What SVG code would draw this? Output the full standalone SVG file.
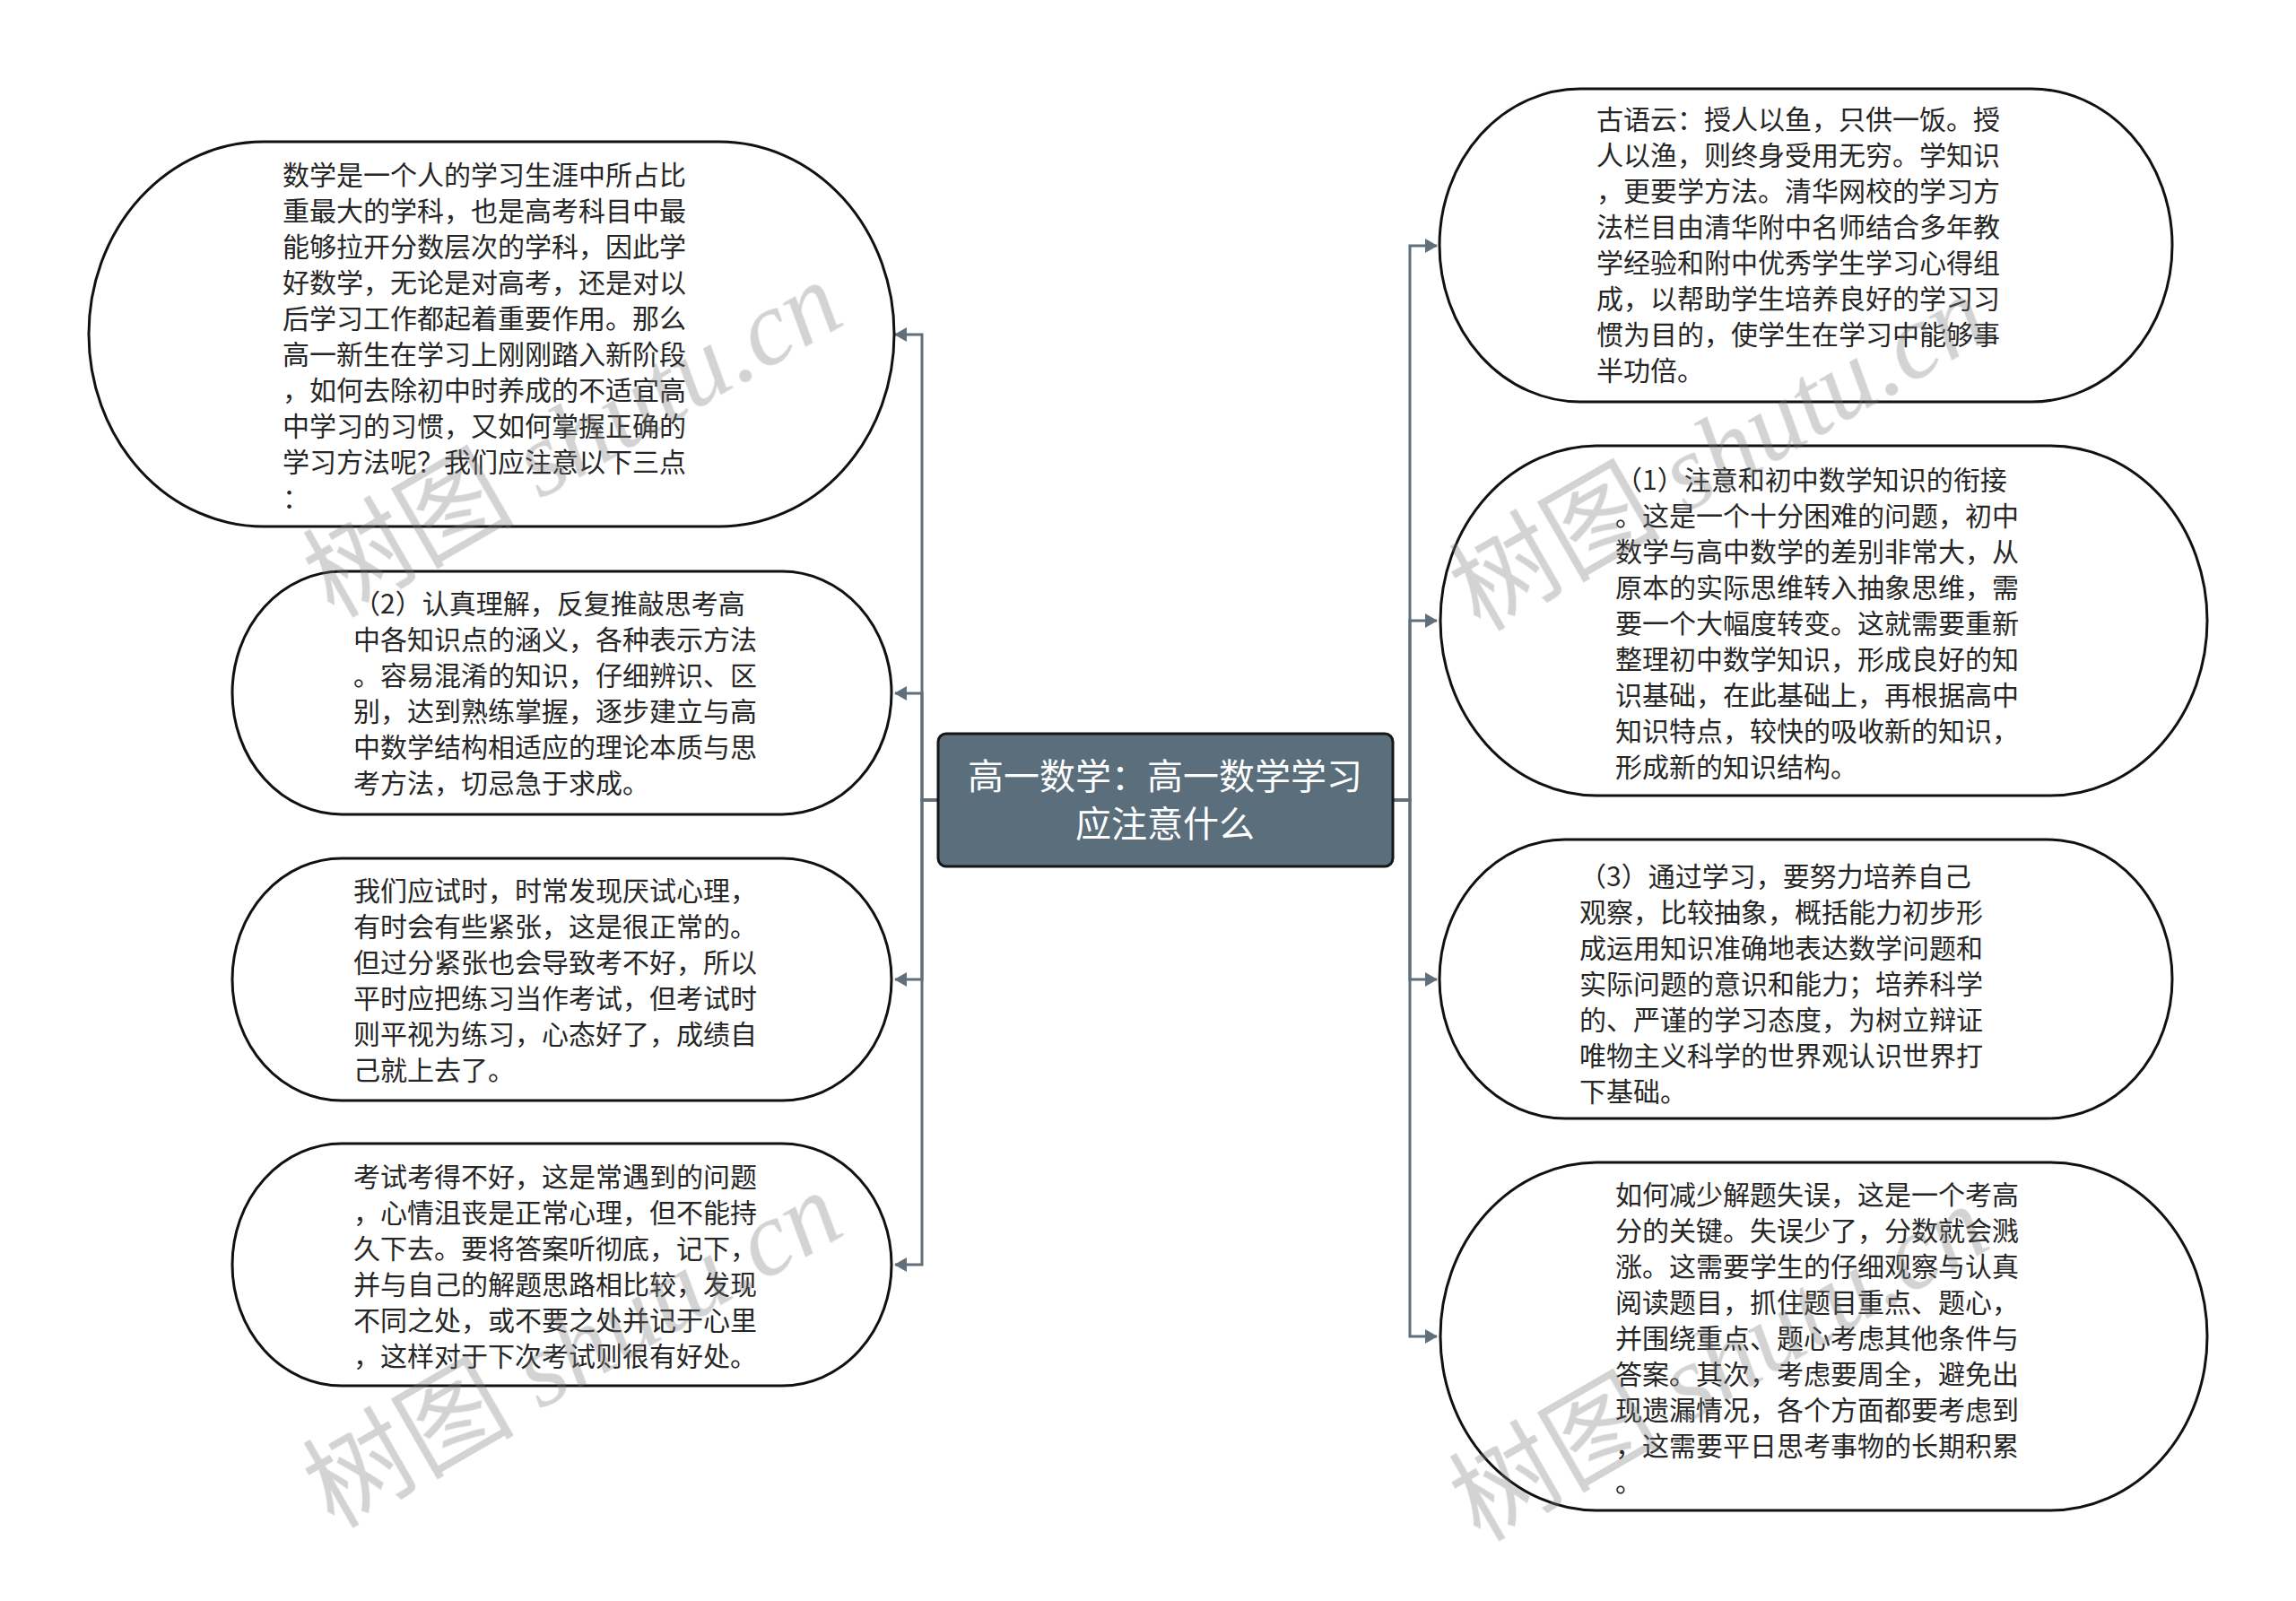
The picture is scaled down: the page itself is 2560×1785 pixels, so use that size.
<svg xmlns="http://www.w3.org/2000/svg" width="2560" height="1785" viewBox="0 0 2560 1785">
<defs>
<style>
.node{fill:#ffffff;stroke:#111111;stroke-width:3}
.t{font-family:"Noto Sans CJK SC","Noto Sans",sans-serif;font-size:30px;fill:#262626}
.ct{font-family:"Noto Sans CJK SC","Noto Sans",sans-serif;font-size:40px;fill:#ffffff;text-anchor:middle}
.edge{fill:none;stroke:#5f6f7b;stroke-width:3}
.wm{font-size:118px;fill:#7a7a7a;opacity:0.33}
.wm1{font-family:"Noto Sans CJK SC",sans-serif}
.wm2{font-family:"Liberation Serif",serif;font-style:italic}
</style>
<marker id="arr" markerUnits="userSpaceOnUse" markerWidth="14" markerHeight="16" viewBox="0 0 14 16" refX="13" refY="8" orient="auto">
<path d="M0,0 L14,8 L0,16 Z" fill="#5f6f7b"/>
</marker>
</defs>
<rect x="0" y="0" width="2560" height="1785" fill="#ffffff"/>

<g id="connectors">
<path class="edge" d="M1046,892 H1028 V373 H998" marker-end="url(#arr)"/>
<path class="edge" d="M1046,892 H1028 V773 H998" marker-end="url(#arr)"/>
<path class="edge" d="M1046,892 H1028 V1092 H998" marker-end="url(#arr)"/>
<path class="edge" d="M1046,892 H1028 V1410 H998" marker-end="url(#arr)"/>
<path class="edge" d="M1553,892 H1572 V274 H1602" marker-end="url(#arr)"/>
<path class="edge" d="M1553,892 H1572 V692 H1602" marker-end="url(#arr)"/>
<path class="edge" d="M1553,892 H1572 V1092 H1602" marker-end="url(#arr)"/>
<path class="edge" d="M1553,892 H1572 V1490 H1602" marker-end="url(#arr)"/>
</g>

<g id="center">
<rect x="1046" y="818" width="507" height="148" rx="9" ry="9" fill="#5b6e7c" stroke="#161616" stroke-width="3"/>
<text class="ct" x="1299" y="880">高一数学：高一数学学习</text>
<text class="ct" x="1299" y="933">应注意什么</text>
</g>

<g id="L1">
<rect class="node" x="99" y="158" width="898" height="429" rx="195" ry="214.5"/>
<text class="t" x="315" y="206">数学是一个人的学习生涯中所占比</text>
<text class="t" x="315" y="246">重最大的学科，也是高考科目中最</text>
<text class="t" x="315" y="286">能够拉开分数层次的学科，因此学</text>
<text class="t" x="315" y="326">好数学，无论是对高考，还是对以</text>
<text class="t" x="315" y="366">后学习工作都起着重要作用。那么</text>
<text class="t" x="315" y="406">高一新生在学习上刚刚踏入新阶段</text>
<text class="t" x="315" y="446">，如何去除初中时养成的不适宜高</text>
<text class="t" x="315" y="486">中学习的习惯，又如何掌握正确的</text>
<text class="t" x="315" y="526">学习方法呢？我们应注意以下三点</text>
<text class="t" x="315" y="566">：</text>
</g>

<g id="L2">
<rect class="node" x="259" y="637" width="735" height="271" rx="122" ry="135.5"/>
<text class="t" x="394" y="684">（2）认真理解，反复推敲思考高</text>
<text class="t" x="394" y="724">中各知识点的涵义，各种表示方法</text>
<text class="t" x="394" y="764">。容易混淆的知识，仔细辨识、区</text>
<text class="t" x="394" y="804">别，达到熟练掌握，逐步建立与高</text>
<text class="t" x="394" y="844">中数学结构相适应的理论本质与思</text>
<text class="t" x="394" y="884">考方法，切忌急于求成。</text>
</g>

<g id="L3">
<rect class="node" x="259" y="957" width="735" height="270" rx="122" ry="135"/>
<text class="t" x="394" y="1004">我们应试时，时常发现厌试心理，</text>
<text class="t" x="394" y="1044">有时会有些紧张，这是很正常的。</text>
<text class="t" x="394" y="1084">但过分紧张也会导致考不好，所以</text>
<text class="t" x="394" y="1124">平时应把练习当作考试，但考试时</text>
<text class="t" x="394" y="1164">则平视为练习，心态好了，成绩自</text>
<text class="t" x="394" y="1204">己就上去了。</text>
</g>

<g id="L4">
<rect class="node" x="259" y="1275" width="735" height="270" rx="122" ry="135"/>
<text class="t" x="394" y="1323">考试考得不好，这是常遇到的问题</text>
<text class="t" x="394" y="1363">，心情沮丧是正常心理，但不能持</text>
<text class="t" x="394" y="1403">久下去。要将答案听彻底，记下，</text>
<text class="t" x="394" y="1443">并与自己的解题思路相比较，发现</text>
<text class="t" x="394" y="1483">不同之处，或不要之处并记于心里</text>
<text class="t" x="394" y="1523">，这样对于下次考试则很有好处。</text>
</g>

<g id="R1">
<rect class="node" x="1605" y="99" width="817" height="349" rx="157" ry="174.5"/>
<text class="t" x="1780" y="144">古语云：授人以鱼，只供一饭。授</text>
<text class="t" x="1780" y="184">人以渔，则终身受用无穷。学知识</text>
<text class="t" x="1780" y="224">，更要学方法。清华网校的学习方</text>
<text class="t" x="1780" y="264">法栏目由清华附中名师结合多年教</text>
<text class="t" x="1780" y="304">学经验和附中优秀学生学习心得组</text>
<text class="t" x="1780" y="344">成，以帮助学生培养良好的学习习</text>
<text class="t" x="1780" y="384">惯为目的，使学生在学习中能够事</text>
<text class="t" x="1780" y="424">半功倍。</text>
</g>

<g id="R2">
<rect class="node" x="1606" y="497" width="855" height="390" rx="175" ry="195"/>
<text class="t" x="1801" y="546">（1）注意和初中数学知识的衔接</text>
<text class="t" x="1801" y="586">。这是一个十分困难的问题，初中</text>
<text class="t" x="1801" y="626">数学与高中数学的差别非常大，从</text>
<text class="t" x="1801" y="666">原本的实际思维转入抽象思维，需</text>
<text class="t" x="1801" y="706">要一个大幅度转变。这就需要重新</text>
<text class="t" x="1801" y="746">整理初中数学知识，形成良好的知</text>
<text class="t" x="1801" y="786">识基础，在此基础上，再根据高中</text>
<text class="t" x="1801" y="826">知识特点，较快的吸收新的知识，</text>
<text class="t" x="1801" y="866">形成新的知识结构。</text>
</g>

<g id="R3">
<rect class="node" x="1605" y="936" width="817" height="311" rx="140" ry="155.5"/>
<text class="t" x="1761" y="988">（3）通过学习，要努力培养自己</text>
<text class="t" x="1761" y="1028">观察，比较抽象，概括能力初步形</text>
<text class="t" x="1761" y="1068">成运用知识准确地表达数学问题和</text>
<text class="t" x="1761" y="1108">实际问题的意识和能力；培养科学</text>
<text class="t" x="1761" y="1148">的、严谨的学习态度，为树立辩证</text>
<text class="t" x="1761" y="1188">唯物主义科学的世界观认识世界打</text>
<text class="t" x="1761" y="1228">下基础。</text>
</g>

<g id="R4">
<rect class="node" x="1606" y="1296" width="855" height="388" rx="175" ry="194"/>
<text class="t" x="1801" y="1343">如何减少解题失误，这是一个考高</text>
<text class="t" x="1801" y="1383">分的关键。失误少了，分数就会溅</text>
<text class="t" x="1801" y="1423">涨。这需要学生的仔细观察与认真</text>
<text class="t" x="1801" y="1463">阅读题目，抓住题目重点、题心，</text>
<text class="t" x="1801" y="1503">并围绕重点、题心考虑其他条件与</text>
<text class="t" x="1801" y="1543">答案。其次，考虑要周全，避免出</text>
<text class="t" x="1801" y="1583">现遗漏情况，各个方面都要考虑到</text>
<text class="t" x="1801" y="1623">，这需要平日思考事物的长期积累</text>
<text class="t" x="1801" y="1663">。</text>
</g>

<g id="watermarks" class="wm">
<text transform="translate(372,690) rotate(-30)"><tspan class="wm1">树图</tspan><tspan class="wm2"> shutu.cn</tspan></text>
<text transform="translate(372,1705) rotate(-30)"><tspan class="wm1">树图</tspan><tspan class="wm2"> shutu.cn</tspan></text>
<text transform="translate(1650,705) rotate(-30)"><tspan class="wm1">树图</tspan><tspan class="wm2"> shutu.cn</tspan></text>
<text transform="translate(1650,1720) rotate(-30)"><tspan class="wm1">树图</tspan><tspan class="wm2"> shutu.cn</tspan></text>
</g>
</svg>
